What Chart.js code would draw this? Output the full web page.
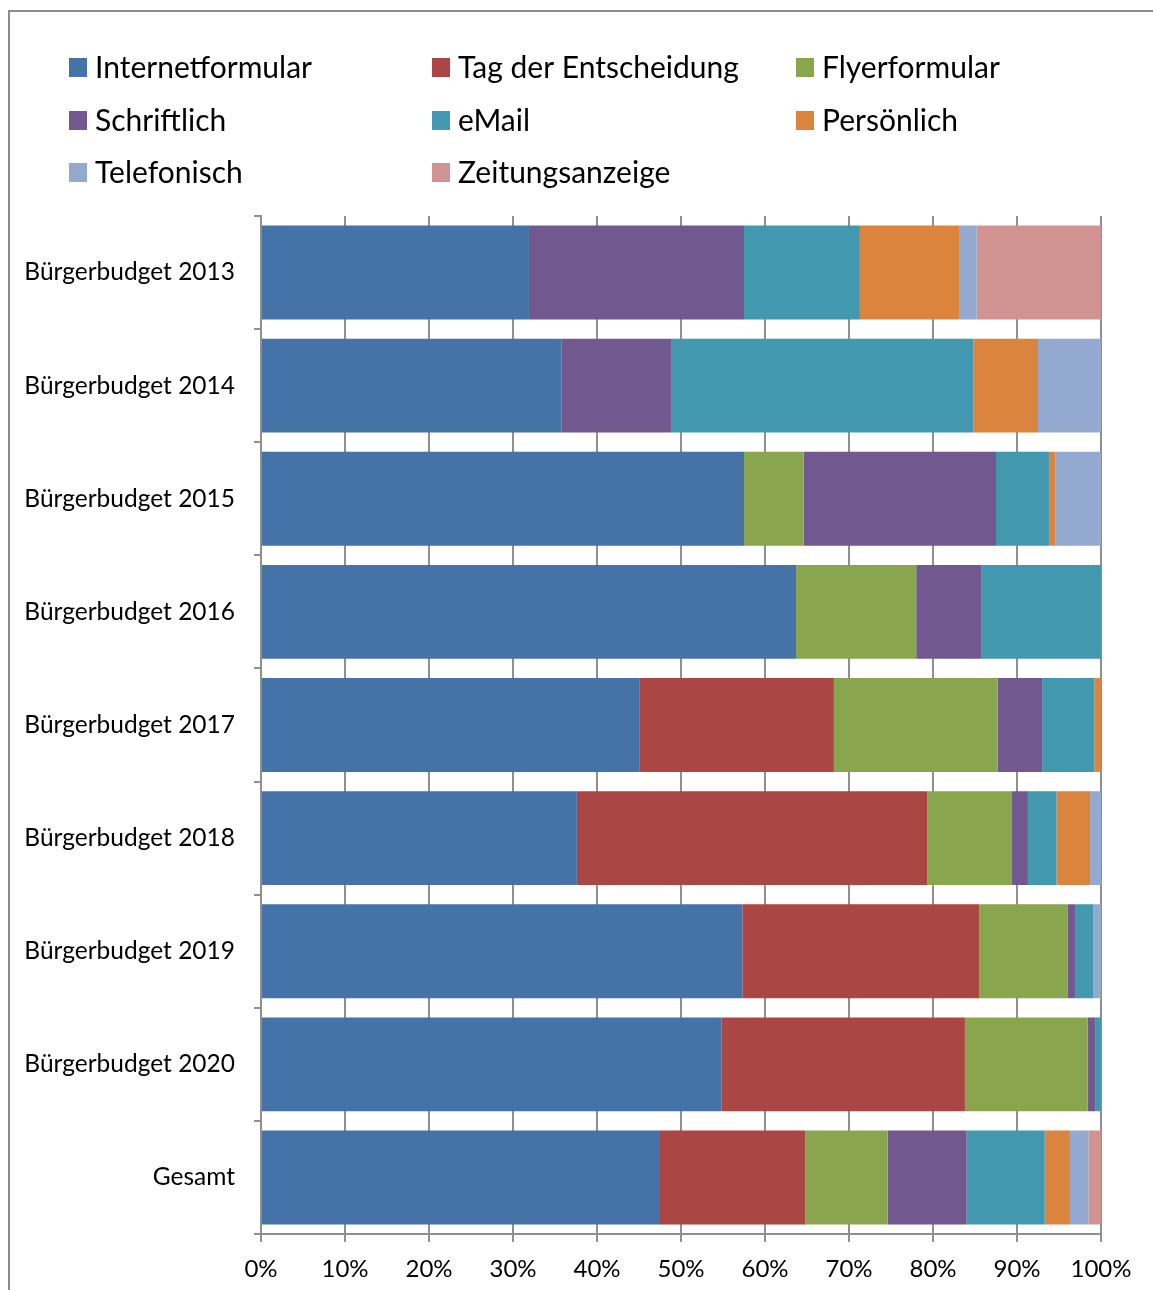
<!DOCTYPE html>
<html>
<head>
<meta charset="utf-8">
<script src="https://cdn.jsdelivr.net/npm/chart.js@4"></script>
<style>
  html, body { margin: 0; padding: 0; background: #fff; }
  #wrap { position: absolute; left: 0; top: 0; width: 1153px; height: 1290px; }
  #frame { position: absolute; left: 8px; top: 10px; width: 1200px; height: 1400px; border-top: 2px solid #8c8c8c; border-left: 2px solid #8c8c8c; }
  canvas { position: absolute; left: 0; top: 0; }
</style>
</head>
<body>
<div id="wrap">
  <div id="frame"></div>
  <canvas id="c" width="1153" height="1290"></canvas>
</div>
<script>
const categories = ["Bürgerbudget 2013","Bürgerbudget 2014","Bürgerbudget 2015","Bürgerbudget 2016","Bürgerbudget 2017","Bürgerbudget 2018","Bürgerbudget 2019","Bürgerbudget 2020","Gesamt"];
const seriesNames = ["Internetformular","Tag der Entscheidung","Flyerformular","Schriftlich","eMail","Persönlich","Telefonisch","Zeitungsanzeige"];
const internetformular = [31.9,35.8,57.5,63.7,45.1,37.6,57.3,54.8,47.5];
const tagDerEntscheidung = [0,0,0,0,23.1,41.7,28.2,29.0,17.3];
const flyerformular = [0,0,7.1,14.3,19.5,10.1,10.5,14.6,9.8];
const schriftlich = [25.6,13.1,22.9,7.8,5.3,1.9,0.9,0.9,9.4];
const email = [13.8,35.9,6.3,14.2,6.2,3.4,2.2,0.7,9.3];
const persoenlich = [11.8,7.7,0.8,0,0.8,4.0,0,0,3.0];
const telefonisch = [2.1,7.5,5.4,0,0,1.3,0.9,0,2.2];
const zeitungsanzeige = [14.8,0,0,0,0,0,0,0,1.5];
const xTicks = [0,10,20,30,40,50,60,70,80,90,100];
const colors = ["#4572A7","#AA4643","#89A54E","#71588F","#4198AF","#DB843D","#93A9CF","#D19392"];

const seriesValues = [internetformular, tagDerEntscheidung, flyerformular, schriftlich, email, persoenlich, telefonisch, zeitungsanzeige];

const FONT = "Lato, 'Open Sans', sans-serif";

const gridLegend = {
  id: 'gridLegend',
  afterDraw(chart) {
    const ctx = chart.ctx;
    const colX = [69, 432, 796];
    const rowY = [67, 120, 172];
    ctx.save();
    ctx.font = "30px " + FONT;
    ctx.textBaseline = 'middle';
    ctx.textAlign = 'left';
    chart.data.datasets.forEach((ds, i) => {
      const col = i % 3, row = Math.floor(i / 3);
      const x = colX[col], y = rowY[row];
      ctx.fillStyle = ds.backgroundColor;
      ctx.fillRect(x, y - 9, 18, 19);
      ctx.fillStyle = '#000';
      ctx.fillText(ds.label, x + 26, y + 1);
    });
    ctx.restore();
  }
};

new Chart(document.getElementById('c'), {
  type: 'bar',
  data: {
    labels: categories,
    datasets: seriesNames.map((n, i) => ({
      label: n,
      data: seriesValues[i],
      backgroundColor: colors[i],
      borderWidth: 0,
      barPercentage: 0.83,
      categoryPercentage: 1.0
    }))
  },
  options: {
    indexAxis: 'y',
    responsive: false,
    animation: false,
    layout: { padding: { top: 216, right: 52, left: 0, bottom: 0 } },
    plugins: { legend: { display: false }, tooltip: { enabled: false } },
    scales: {
      x: {
        stacked: true,
        min: 0, max: 100,
        afterBuildTicks(scale) { scale.ticks = xTicks.map(v => ({ value: v })); },
        afterFit(scale) { scale.height = 56; },
        ticks: {
          callback: v => v + '%',
          font: { family: FONT, size: 24 },
          color: '#000',
          padding: 13,
          maxRotation: 0
        },
        grid: { color: '#8f8f8f', lineWidth: 2, tickLength: 8, drawTicks: true },
        border: { color: '#8f8f8f', width: 2 }
      },
      y: {
        stacked: true,
        afterFit(scale) { scale.width = 261; },
        ticks: {
          font: { family: FONT, size: 24.5 },
          color: '#000',
          padding: 19
        },
        grid: { offset: true, drawOnChartArea: false, color: '#8f8f8f', lineWidth: 2, tickLength: 7 },
        border: { color: '#8f8f8f', width: 2 }
      }
    }
  },
  plugins: [gridLegend]
});
</script>
</body>
</html>
